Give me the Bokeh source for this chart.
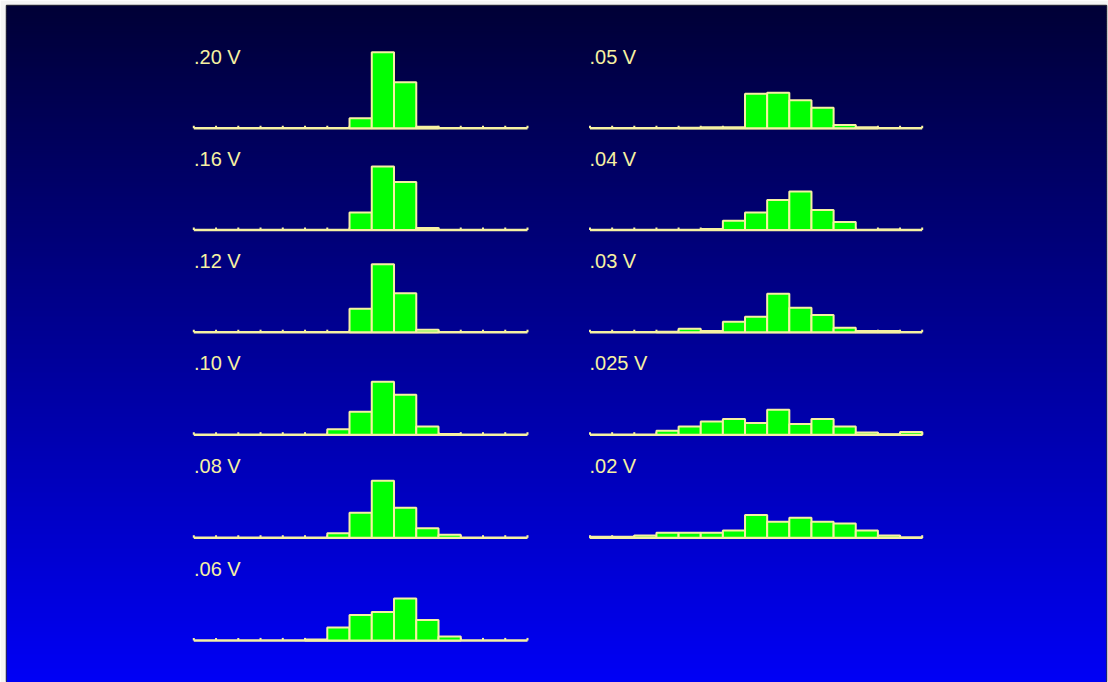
import numpy as np
from bokeh.plotting import figure
from bokeh.models import Range1d, ColumnDataSource
from bokeh.embed import file_html
from bokeh.resources import INLINE
from bokeh.core.properties import value

# ---------------- data ----------------
n_bins = 15
bin_index = list(range(n_bins))

left_labels = [".20 V", ".16 V", ".12 V", ".10 V", ".08 V", ".06 V"]
right_labels = [".05 V", ".04 V", ".03 V", ".025 V", ".02 V"]

c_20 = [0, 0, 0, 0, 0, 0, 0, 10, 76, 46, 1.6, 0, 0, 0, 0]
c_16 = [0, 0, 0, 0, 0, 0, 0, 17.5, 63.5, 48, 2, 0, 0, 0, 0]
c_12 = [0, 0, 0, 0, 0, 0, 0, 23.5, 68, 39, 2.6, 0, 0, 0, 0]
c_10 = [0, 0, 0, 0, 0, 0, 5.6, 23, 53, 40, 8.2, 0.8, 0, 0, 0]
c_08 = [0, 0, 0, 0, 0, 0, 4.6, 25, 57, 30, 9.6, 3, 0, 0, 0]
c_06 = [0, 0, 0, 0, 0, 1.0, 13, 25.5, 28.5, 42, 20.5, 4, 0, 0, 0]

c_05 = [0, 0, 0, 0, 0.5, 1.0, 1.0, 34.5, 35.5, 28, 20.5, 3.3, 1.0, 0, 0]
c_04 = [0, 0, 0, 0, 0, 1.0, 9.3, 17.7, 30, 38.5, 20, 8, 0, 0.6, 0]
c_03 = [0, 0, 0, 0.5, 3.6, 1.3, 10.5, 15.5, 38.5, 24.5, 17.3, 4.6, 1.3, 1.3, 0]
c_025 = [0, 0, 0, 4, 8.3, 13.3, 15.7, 11.7, 25, 10.7, 15.7, 8.3, 2.4, 0.5, 2.8]
c_02 = [1.0, 1.0, 2.3, 5, 5, 5, 7.3, 22.7, 16, 20, 16, 14.3, 7.3, 2.3, 0.2]

left_series = [c_20, c_16, c_12, c_10, c_08, c_06]
right_series = [c_05, c_04, c_03, c_025, c_02]

# ---------------- styles / layout ----------------
W, H = 1108, 682
FL, FT, FR, FB = 6, 5, 1106, 682          # frame edges in page pixels
YEL = "#F6F1A2"
GREEN = "#00FF00"
FONT = value("Liberation Sans")

col_x = [(193.3, 527.0), (589.5, 921.7)]                 # pixel span of the 15 bins
row_base = [127.8, 229.6, 331.8, 434.3, 537.3, 640.0]    # pixel y of baselines
label_dx = [193.5, 589.0]
label_up = 71.5
px_per_count = 1.0

p = figure(width=W, height=H, output_backend="svg", toolbar_location=None,
           x_range=Range1d(FL, FR), y_range=Range1d(FB, FT),
           min_border_left=FL, min_border_top=FT,
           min_border_right=W - FR, min_border_bottom=H - FB)
p.axis.visible = False
p.grid.visible = False
p.outline_line_color = "#2e2e3a"
p.outline_line_width = 1.5
p.border_fill_color = "#F5F5F5"
p.background_fill_color = "#000040"

# vertical gradient background
step = 2
ys = np.arange(FT, FB, step)
top_rgb = np.array([0, 0, 54])
bot_rgb = np.array([0, 0, 246])
t = (ys - FT) / (FB - FT - 1)
cols = ["#%02x%02x%02x" % tuple(int(round(v)) for v in (top_rgb + (bot_rgb - top_rgb) * tt)) for tt in t]
p.quad(left=FL, right=FR, top=ys, bottom=ys + step + 0.6, fill_color=cols, line_color=None)

# ranges per column / row
for c, (x0, x1) in enumerate(col_x):
    s = (x1 - x0) / n_bins
    p.extra_x_ranges[f"x{c}"] = Range1d(-(x0 - FL) / s, n_bins + (FR - x1) / s)
for r, yb in enumerate(row_base):
    p.extra_y_ranges[f"y{r}"] = Range1d(-(FB - yb) / px_per_count, (yb - FT) / px_per_count)

edges = list(range(n_bins + 1))
for c, (labels, series) in enumerate([(left_labels, left_series), (right_labels, right_series)]):
    for r, (lab, cnt) in enumerate(zip(labels, series)):
        xr, yr = f"x{c}", f"y{r}"
        lefts = [i for i, v in zip(bin_index, cnt) if v > 0]
        tops = [v for v in cnt if v > 0]
        src = ColumnDataSource(dict(left=lefts, right=[i + 1 for i in lefts], top=tops))
        # axis baseline
        p.segment(x0=0, y0=0, x1=n_bins, y1=0, line_color=YEL, line_width=2.5,
                  x_range_name=xr, y_range_name=yr)
        # ticks
        p.segment(x0=edges, y0=[0] * len(edges), x1=edges, y1=[2.6] * len(edges),
                  line_color=YEL, line_width=2, x_range_name=xr, y_range_name=yr)
        # bars
        p.quad(left="left", right="right", bottom=0, top="top", source=src,
               fill_color=GREEN, line_color=YEL, line_width=2,
               x_range_name=xr, y_range_name=yr)
        # label
        p.text(x=[label_dx[c]], y=[row_base[r] - label_up], text=[lab],
               text_font=FONT, text_font_size="20px", text_color=YEL,
               text_baseline="alphabetic", text_align="left")

open("out.html", "w").write(file_html(p, INLINE))
